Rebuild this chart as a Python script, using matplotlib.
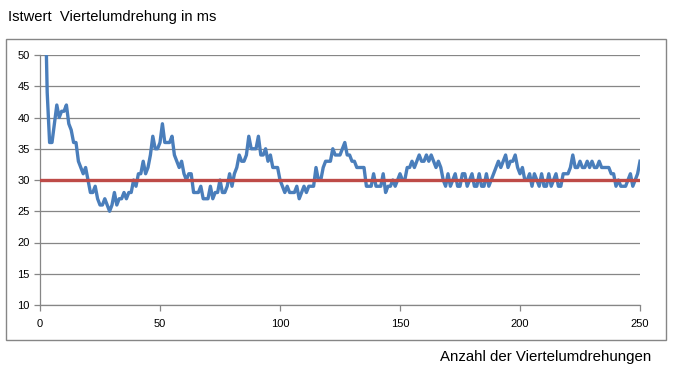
import matplotlib.pyplot as plt
from matplotlib.patches import Rectangle

# Istwert je Viertelumdrehung (ms), ab Index 2
x_start = 2
istwert = [62, 44, 36, 36, 39, 42, 40, 41, 41, 42,
           39, 38, 36, 36, 33, 32, 31, 32, 30, 28,
           28, 29, 27, 26, 26, 27, 26, 25, 26, 28,
           26, 27, 27, 28, 27, 28, 28, 30, 29, 31,
           31, 33, 31, 32, 34, 37, 35, 35, 36, 39,
           36, 36, 36, 37, 34, 33, 32, 33, 31, 30,
           31, 31, 28, 28, 28, 29, 27, 27, 27, 29,
           27, 28, 28, 30, 28, 28, 29, 31, 29, 31,
           32, 34, 33, 33, 34, 37, 35, 35, 35, 37,
           34, 34, 35, 33, 34, 32, 32, 32, 30, 29,
           28, 29, 28, 28, 28, 29, 27, 28, 29, 28,
           29, 29, 29, 32, 30, 30, 32, 33, 33, 33,
           35, 34, 34, 34, 35, 36, 34, 34, 33, 33,
           32, 32, 32, 32, 29, 29, 29, 31, 29, 29,
           29, 31, 28, 29, 29, 30, 29, 30, 31, 30,
           30, 32, 32, 33, 32, 33, 34, 33, 33, 34,
           33, 34, 33, 32, 33, 32, 30, 29, 31, 29,
           30, 31, 29, 29, 31, 31, 29, 30, 31, 29,
           29, 31, 29, 29, 31, 29, 30, 31, 32, 33,
           32, 33, 34, 32, 33, 33, 34, 32, 31, 32,
           30, 30, 31, 29, 31, 30, 29, 31, 29, 29,
           31, 29, 30, 31, 29, 29, 31, 31, 31, 32,
           34, 32, 32, 33, 32, 32, 33, 32, 33, 32,
           32, 33, 32, 32, 32, 32, 31, 31, 29, 30,
           29, 29, 29, 30, 31, 29, 30, 31, 33]
sollwert = 30
x_werte = list(range(x_start, x_start + len(istwert)))

plt.rcParams['font.family'] = ['Liberation Sans', 'DejaVu Sans']

fig = plt.figure(figsize=(6.73, 3.82), dpi=100)
# Rahmen des Diagrammbereichs
fig.patches.append(Rectangle((6 / 673, 1 - 340 / 382), 660 / 673, 301 / 382,
                             transform=fig.transFigure, fill=False,
                             edgecolor='#868686', linewidth=1))

ax = fig.add_axes([40 / 673, 1 - 305 / 382, 600 / 673, 250 / 382])
ax.plot(x_werte, istwert, color='#4A7EBB', linewidth=2.4, zorder=3)
ax.plot([0, 250], [sollwert, sollwert], color='#BE4B48', linewidth=2.4, zorder=4)

ax.set_xlim(0, 250)
ax.set_ylim(10, 50)
ax.set_xticks(range(0, 251, 50))
ax.set_yticks(range(10, 51, 5))
ax.grid(axis='y', color='#868686', linewidth=0.9)
ax.set_axisbelow(True)
for s in ['top', 'right']:
    ax.spines[s].set_visible(False)
for s in ['left', 'bottom']:
    ax.spines[s].set_color('#868686')
    ax.spines[s].set_linewidth(0.9)
ax.tick_params(colors='#868686', labelcolor='black', labelsize=8,
               length=4, width=0.9)
ax.tick_params(axis='x', pad=6)

fig.text(8 / 673, 1 - 17 / 382, 'Istwert  Viertelumdrehung in ms',
         fontsize=10.6, va='center', ha='left')
fig.text(651 / 673, 1 - 357 / 382, 'Anzahl der Viertelumdrehungen',
         fontsize=10.8, va='center', ha='right')

fig.savefig('out.png', dpi=100)
